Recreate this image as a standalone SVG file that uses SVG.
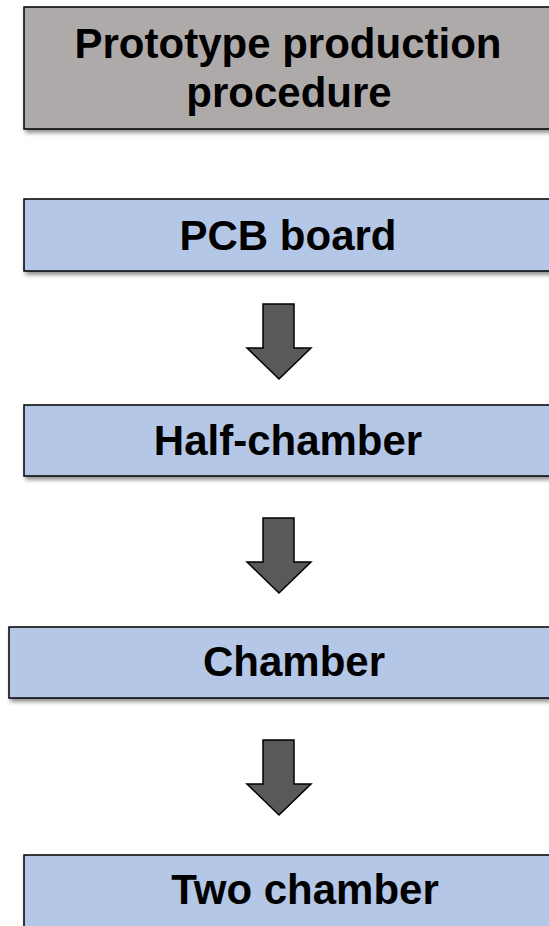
<svg xmlns="http://www.w3.org/2000/svg" width="549" height="926" viewBox="0 0 549 926">
<defs>
<filter id="sh" x="-10%" y="-20%" width="130%" height="160%">
<feDropShadow dx="2" dy="3" stdDeviation="2" flood-color="#000" flood-opacity="0.45"/>
</filter>
<style>
.gray{fill:#aeaaaa;stroke:#000;stroke-width:1.5;filter:url(#sh)}
.blue{fill:#b4c7e7;stroke:#000;stroke-width:1.5;filter:url(#sh)}
.lbl{font-family:"Liberation Sans",Arial,Helvetica,sans-serif;font-weight:bold;font-size:42px;fill:#000;text-anchor:middle}
.arr{fill:#595959;stroke:#000;stroke-width:1.5;stroke-linejoin:miter}
</style>
</defs>
<rect width="549" height="926" fill="#fff"/>
<g id="node-title">
<rect class="gray" x="24" y="7" width="560" height="122"/>
<text class="lbl" x="288" y="58">Prototype production</text>
<text class="lbl" x="289" y="107">procedure</text>
</g>
<g id="node-pcb">
<rect class="blue" x="24" y="199" width="560" height="72"/>
<text class="lbl" x="288" y="250">PCB board</text>
</g>
<g id="node-half">
<rect class="blue" x="24" y="405" width="560" height="71"/>
<text class="lbl" x="288" y="455">Half-chamber</text>
</g>
<g id="node-chamber">
<rect class="blue" x="9" y="627" width="560" height="71"/>
<text class="lbl" x="294" y="676">Chamber</text>
</g>
<g id="node-two">
<rect class="blue" x="24" y="855" width="560" height="90"/>
<text class="lbl" x="305" y="904">Two chamber</text>
</g>
<g id="connectors">
<path class="arr" d="M263,304 H294 V348 H311 L279,379 L247,348 H263 Z"/>
<path class="arr" d="M263,518 H294 V562 H311 L279,593 L247,562 H263 Z"/>
<path class="arr" d="M263,740 H294 V784 H311 L279,815 L247,784 H263 Z"/>
</g>
</svg>
